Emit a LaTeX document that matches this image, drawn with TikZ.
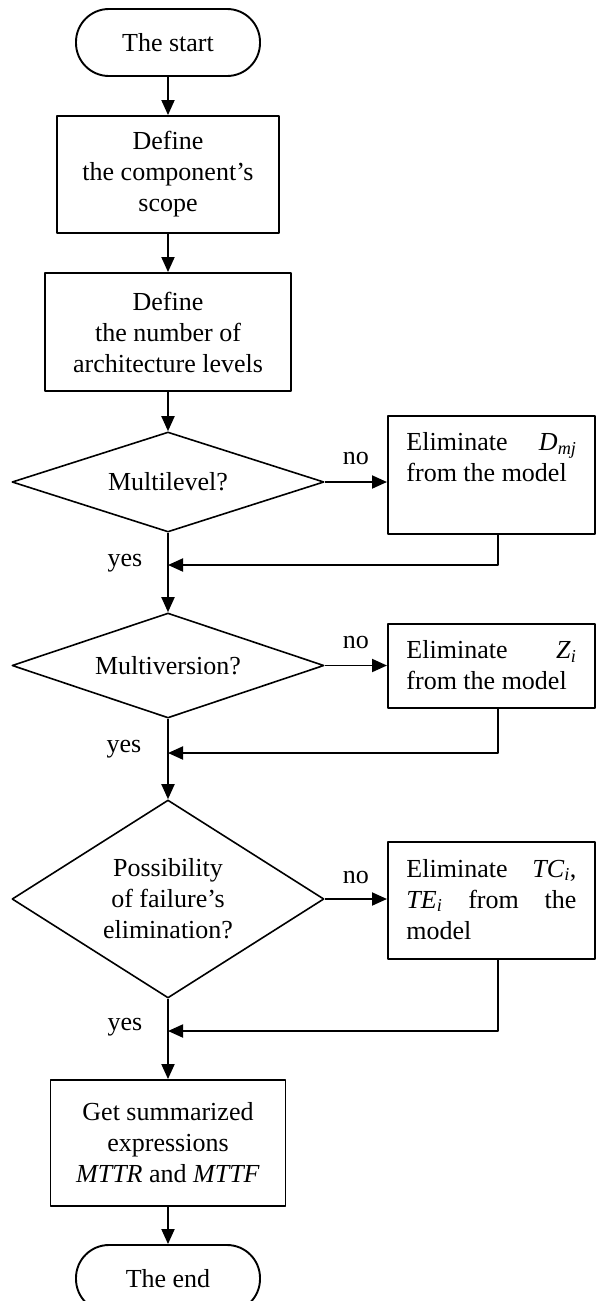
\documentclass[tikz,border=0pt]{standalone}
\usepackage{fontspec}
\setmainfont{Liberation Serif}
\usetikzlibrary{shapes.geometric,arrows.meta}
\newcommand{\isub}[2]{\textit{#1}\textsubscript{\textit{#2}}}
\begin{document}
\begin{tikzpicture}[x=1pt,y=-1pt,font=\fontsize{26}{31}\selectfont,line width=1.9pt,line join=round,>={Triangle[length=15pt,width=13pt]},
		term/.style={draw,rounded corners=33pt,minimum width=184pt,minimum height=67pt,inner sep=0pt},
		block/.style={draw,align=center,inner sep=0pt},
		decision/.style={draw,diamond,align=center,inner sep=0pt,minimum width=312pt,line width=1.6pt},
		sidebox/.style={draw,anchor=north west,inner xsep=18.5pt,inner ysep=17pt},
		lab/.style={inner sep=0pt}]
	\useasboundingbox (0,0) rectangle (595,1301);
	\node[term] (start) at (168,42.5) {The start};
	\node[block,minimum width=222pt,minimum height=117pt] (scope) at (168,174.5) {Define\\the component’s\\scope};
	\node[block,minimum width=246pt,minimum height=118pt] (levels) at (168,332) {Define\\the number of\\architecture levels};
	\node[decision,aspect=3,minimum height=100pt] (multilevel) at (168,482) {Multilevel?};
	\node[decision,aspect=3,minimum height=105pt] (multiversion) at (168,665.5) {Multiversion?};
	\node[decision,aspect=1.6,minimum height=198pt] (failure) at (168,899) {Possibility\\of failure’s\\elimination?};
	\node[block,minimum width=235pt,minimum height=126pt] (summary) at (168,1143) {Get summarized\\expressions\\\textit{MTTR} and \textit{MTTF}};
	\node[term] (end) at (168,1278.5) {The end};

	\node[sidebox] (dmj) at (387,415) {\parbox[c][84pt][t]{170pt}{Eliminate\hfill\isub{D}{mj}\\from the model}};
	\node[sidebox] (zi) at (387,623) {\parbox[c][50pt][t]{170pt}{Eliminate\hfill\isub{Z}{i}\\from the model}};
	\node[sidebox] (tci) at (387,841) {\parbox[c][83pt][t]{170pt}{Eliminate\hfill\isub{TC}{i},\\\isub{TE}{i}\hfill from\hfill the\\model}};

	\coordinate (j1) at (168,565);
	\coordinate (j2) at (168,753);
	\coordinate (j3) at (168,1031);

	\draw[->] (start) -- (scope);
	\draw[->] (scope) -- (levels);
	\draw[->] (levels) -- (multilevel);
	\draw[->] (multilevel) -- (multiversion);
	\draw[->] (multiversion) -- (failure);
	\draw[->] (failure) -- (summary);
	\draw[->] (summary) -- (end);

	\draw[->] (multilevel.east) -- (multilevel.east -| dmj.west) node[lab,midway,above=16pt] (no1) {no};
	\draw[->] (multiversion.east) -- (multiversion.east -| zi.west) node[lab,midway,above=16pt] (no2) {no};
	\draw[->] (failure.east) -- (failure.east -| tci.west) node[lab,midway,above=14pt] (no3) {no};

	\draw[->] ([xshift=6.5pt]dmj.south) |- (j1);
	\draw[->] ([xshift=6.5pt]zi.south) |- (j2);
	\draw[->] ([xshift=6.5pt]tci.south) |- (j3);

	\node[lab] (yes1) at (125,563) {yes};
	\node[lab] (yes2) at (124,749) {yes};
	\node[lab] (yes3) at (125,1027) {yes};
\end{tikzpicture}
\end{document}
